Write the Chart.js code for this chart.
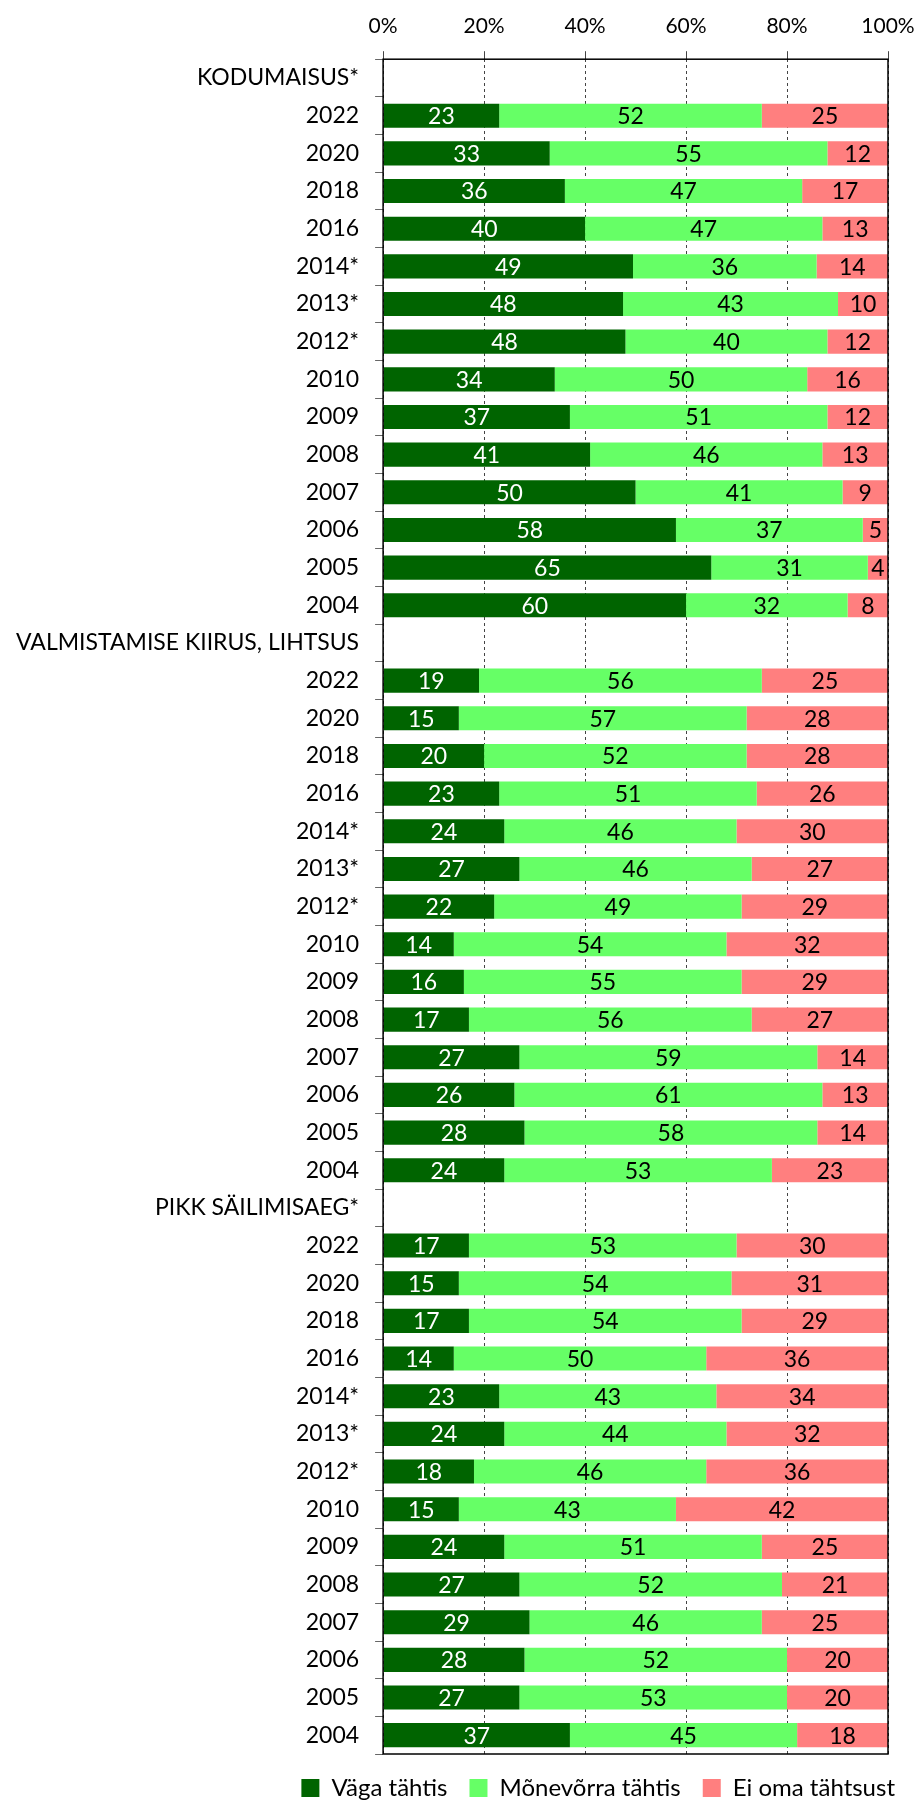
<!DOCTYPE html>
<html>
<head>
<meta charset="utf-8">
<script src="https://cdn.jsdelivr.net/npm/chart.js@4/dist/chart.umd.min.js"></script>
<style>
html,body{margin:0;padding:0;background:#fff;overflow:hidden;}
#wrap{width:917px;height:1802px;position:relative;}
</style>
</head>
<body>
<div id="wrap"><canvas id="c"></canvas></div>
<script>
const categories = [
  "KODUMAISUS*","2022","2020","2018","2016","2014*","2013*","2012*","2010","2009","2008","2007","2006","2005","2004",
  "VALMISTAMISE KIIRUS, LIHTSUS","2022","2020","2018","2016","2014*","2013*","2012*","2010","2009","2008","2007","2006","2005","2004",
  "PIKK SÄILIMISAEG*","2022","2020","2018","2016","2014*","2013*","2012*","2010","2009","2008","2007","2006","2005","2004"
];
const seriesNames = ["Väga tähtis","Mõnevõrra tähtis","Ei oma tähtsust"];
const vagaTahtis = [
  null,23,33,36,40,49,48,48,34,37,41,50,58,65,60,
  null,19,15,20,23,24,27,22,14,16,17,27,26,28,24,
  null,17,15,17,14,23,24,18,15,24,27,29,28,27,37
];
const monevorraTahtis = [
  null,52,55,47,47,36,43,40,50,51,46,41,37,31,32,
  null,56,57,52,51,46,46,49,54,55,56,59,61,58,53,
  null,53,54,54,50,43,44,46,43,51,52,46,52,53,45
];
const eiOmaTahtsust = [
  null,25,12,17,13,14,10,12,16,12,13,9,5,4,8,
  null,25,28,28,26,30,27,29,32,29,27,14,13,14,23,
  null,30,31,29,36,34,32,36,42,25,21,25,20,20,18
];
const xTicks = [0,20,40,60,80,100];

// 100% stacked: each row is shown as share of its row total (labels keep raw values)
const raw = [vagaTahtis, monevorraTahtis, eiOmaTahtsust];
const rowTotal = categories.map((_, i) => raw.reduce((s, a) => s + (a[i] || 0), 0));
const pct = raw.map(a => a.map((v, i) => v === null ? null : v / rowTotal[i] * 100));

const FONT = "Lato, 'Open Sans', sans-serif";

const valueLabels = {
  id: 'valueLabels',
  afterDatasetsDraw(chart) {
    const ctx = chart.ctx;
    ctx.save();
    ctx.font = "23px " + FONT;
    ctx.textAlign = 'center';
    ctx.textBaseline = 'middle';
    chart.data.datasets.forEach((ds, di) => {
      const meta = chart.getDatasetMeta(di);
      meta.data.forEach((el, i) => {
        const v = raw[di][i];
        if (v === null || v === undefined) return;
        ctx.fillStyle = di === 0 ? '#ffffff' : '#000000';
        ctx.fillText(String(v), (el.x + el.base) / 2, el.y + 1);
      });
    });
    ctx.restore();
  }
};

const frame = {
  id: 'frame',
  afterDatasetsDraw(chart) {
    const a = chart.chartArea, ctx = chart.ctx;
    ctx.save();
    ctx.strokeStyle = '#000';
    ctx.lineWidth = 1.5;
    ctx.strokeRect(a.left, a.top, a.right - a.left, a.bottom - a.top);
    ctx.restore();
  }
};

new Chart(document.getElementById('c'), {
  type: 'bar',
  data: {
    labels: categories,
    datasets: [
      { label: seriesNames[0], data: pct[0], backgroundColor: '#006400' },
      { label: seriesNames[1], data: pct[1], backgroundColor: '#66FF66' },
      { label: seriesNames[2], data: pct[2], backgroundColor: '#FF7F7F' }
    ]
  },
  options: {
    indexAxis: 'y',
    responsive: true,
    maintainAspectRatio: false,
    animation: false,
    devicePixelRatio: 1,
    layout: { padding: { top: 2, right: 0, bottom: -8, left: 0 } },
    datasets: { bar: { categoryPercentage: 1, barPercentage: 0.64, borderWidth: 0 } },
    scales: {
      x: {
        position: 'top',
        stacked: true,
        min: 0, max: 100,
        afterBuildTicks(scale) { scale.ticks = xTicks.map(v => ({ value: v })); },
        afterFit(scale) { scale.paddingLeft = 0; scale.paddingRight = 29; },
        ticks: { callback: v => v + '%', color: '#000', font: { family: FONT, size: 21 }, padding: 12, maxRotation: 0 },
        grid: { color: '#444', lineWidth: 1, tickLength: 8, tickColor: '#444' },
        border: { display: false, dash: [3, 3] }
      },
      y: {
        stacked: true,
        offset: true,
        afterFit(scale) { scale.paddingTop = 0; scale.paddingBottom = 0; },
        ticks: { autoSkip: false, color: '#000', font: { family: FONT, size: 23 }, padding: 16 },
        grid: { drawOnChartArea: false, tickLength: 8, tickColor: '#666', offset: true },
        border: { display: false }
      }
    },
    plugins: {
      legend: {
        position: 'bottom',
        align: 'end',
        labels: { boxWidth: 18, boxHeight: 18, color: '#000', font: { family: FONT, size: 24 }, padding: 22 }
      },
      tooltip: { enabled: false }
    }
  },
  plugins: [valueLabels, frame]
});
</script>
</body>
</html>
